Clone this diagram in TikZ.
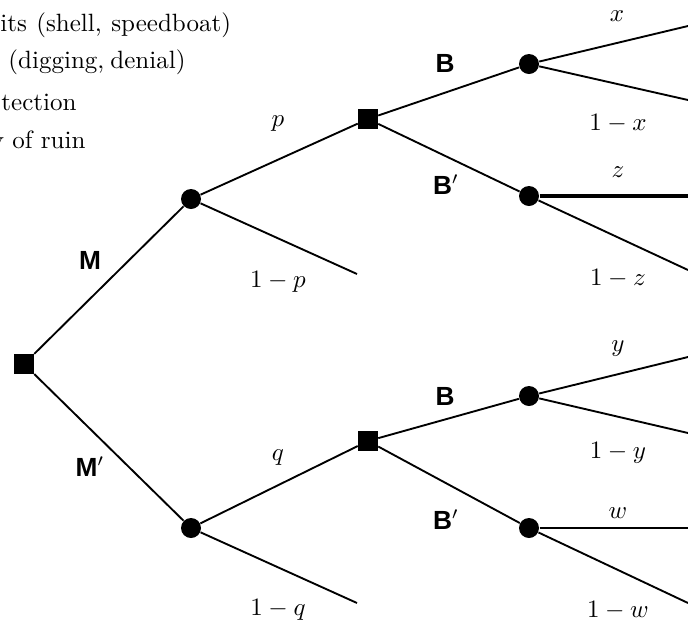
\documentclass[tikz,border=0pt]{standalone}
\usepackage{amsmath, amssymb}
\usepackage{fontspec}
\newfontfamily\lblfont{Liberation Sans}
\usetikzlibrary{positioning}

\begin{document}
\begin{tikzpicture}[x=0.4pt,y=-0.4pt,
	decision/.style={rectangle,fill=black,minimum size=7.8pt,inner sep=0pt},
	chance/.style={circle,fill=black,minimum size=8pt,inner sep=0pt},
	branch/.style={line width=0.75pt},
	act/.style={font=\lblfont\fontsize{10.5}{12}\selectfont\bfseries},
	prob/.style={inner sep=0pt},
	note/.style={inner sep=0pt,anchor=base west}]

	\useasboundingbox (0,0) rectangle (688,621);

	% legend (cut at the left edge)
	\node[note] (n1) at (0,31) {\makebox[92.2pt][s]{its (shell, speedboat)}};
	\node[note] (n2) at (8,68) {\makebox[70pt][s]{(digging, denial)}};
	\node[note,anchor=base east] (n3) at (77,110) {tection};
	\node[note,anchor=base east] (n4) at (86,148) {y of ruin};

	% nodes
	\node[decision] (root) at (24,364) {};
	\node[chance] (cM) at (191,199) {};
	\node[chance] (cMp) at (191,528) {};
	\node[decision] (dM) at (368,119) {};
	\node[decision] (dMp) at (368,441) {};
	\node[chance] (cB1) at (529,64) {};
	\node[chance] (cBp1) at (529,196) {};
	\node[chance] (cB2) at (529,396) {};
	\node[chance] (cBp2) at (529,528) {};

	% free ends
	\coordinate (e1p) at (357,274);
	\coordinate (e1q) at (357,603);
	\coordinate (ex) at (688,26);
	\coordinate (e1x) at (688,100);
	\coordinate (ez) at (688,196);
	\coordinate (e1z) at (688,270);
	\coordinate (ey) at (688,357);
	\coordinate (e1y) at (688,433);
	\coordinate (ew) at (688,528);
	\coordinate (e1w) at (688,603);

	% branches
	\draw[branch] (root) -- (cM);
	\draw[branch] (root) -- (cMp);
	\draw[branch] (cM) -- (dM);
	\draw[branch] (cM) -- (e1p);
	\draw[branch] (cMp) -- (dMp);
	\draw[branch] (cMp) -- (e1q);
	\draw[branch] (dM) -- (cB1);
	\draw[branch] (dM) -- (cBp1);
	\draw[branch] (dMp) -- (cB2);
	\draw[branch] (dMp) -- (cBp2);
	\draw[branch] (cB1) -- (ex);
	\draw[branch] (cB1) -- (e1x);
	\draw[line width=1.4pt] (cBp1) -- (ez);
	\draw[branch] (cBp1) -- (e1z);
	\draw[branch] (cB2) -- (ey);
	\draw[branch] (cB2) -- (e1y);
	\draw[line width=1pt] (cBp2) -- (ew);
	\draw[branch] (cBp2) -- (e1w);

	% labels
	\node[act] (lM) at (90,260) {M};
	\node[act] (lMp) at (90,467) {M$'$};
	\node[act] (lB1) at (445,63) {B};
	\node[act] (lBp1) at (446,185) {B$'$};
	\node[act] (lB2) at (445,396) {B};
	\node[act] (lBp2) at (446,520) {B$'$};
	\node[prob] (lp) at (278,124) {$p$};
	\node[prob] (l1p) at (278,282) {$1-p$};
	\node[prob] (lq) at (278,458) {$q$};
	\node[prob] (l1q) at (278,610) {$1-q$};
	\node[prob] (lx) at (617,16) {$x$};
	\node[prob] (l1x) at (618,123) {$1-x$};
	\node[prob] (lz) at (618,172) {$z$};
	\node[prob] (l1z) at (618,278) {$1-z$};
	\node[prob] (ly) at (618,349) {$y$};
	\node[prob] (l1y) at (618,453) {$1-y$};
	\node[prob] (lw) at (618,513) {$w$};
	\node[prob] (l1w) at (618,610) {$1-w$};

\end{tikzpicture}
\end{document}
